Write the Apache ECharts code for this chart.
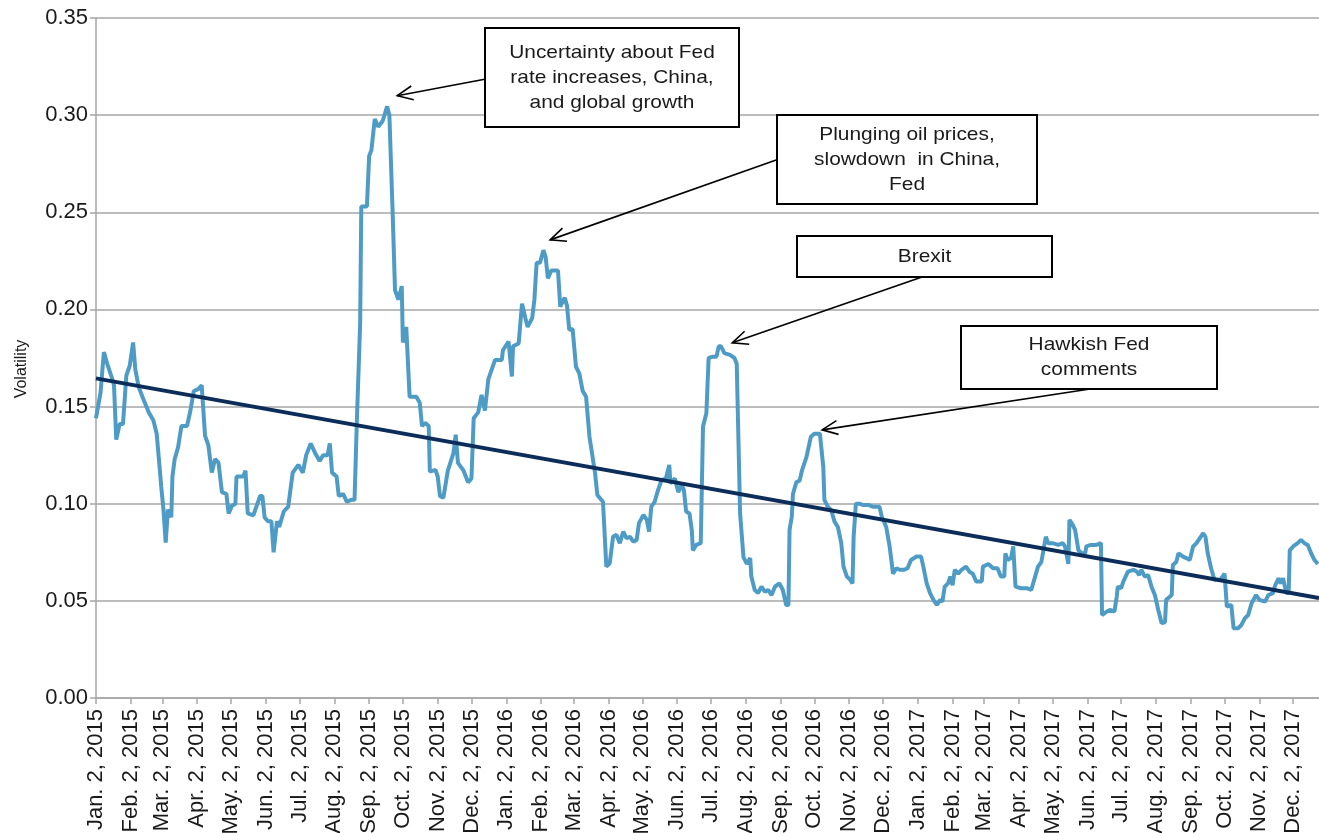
<!DOCTYPE html>
<html><head><meta charset="utf-8">
<script src="https://cdn.jsdelivr.net/npm/echarts@6/dist/echarts.min.js"></script>
<style>html,body{margin:0;padding:0;background:#fff}#c{width:1319px;height:833px}</style>
</head><body><div id="c"></div>
<script>
// ---- data ----
const startDate = '2015-01-02';   // day 0 of obsDay
const endDate = '2017-12-25';     // right end of the date axis
// observation day (days since Jan. 2, 2015)
const obsDay = [0,4,7,10,14,16,18,21,24,27,30,33,35,38,42,47,51,54,57,58,60,62,64,67,68,70,73,76,81,84,87,91,94,97,100,103,106,109,112,116,118,121,124,125,131,133,135,140,146,148,150,153,156,158,161,163,167,171,175,180,184,187,191,195,199,202,206,208,210,214,216,220,223,227,230,232,235,236,241,243,245,248,251,255,259,261,264,266,269,272,273,276,279,285,288,290,293,296,297,302,304,306,309,313,318,320,322,327,331,334,336,340,343,346,349,355,361,362,367,370,371,376,379,382,384,388,390,392,395,398,400,402,405,411,413,417,419,421,424,427,430,433,436,439,444,446,451,452,454,457,460,463,466,469,472,475,478,481,483,487,490,492,494,497,500,503,507,510,511,515,518,521,523,525,528,530,531,534,538,540,543,545,549,552,554,556,559,564,568,570,573,576,579,582,583,586,589,592,595,598,601,604,608,611,614,616,617,619,620,623,626,628,632,636,639,644,647,648,651,654,657,660,663,665,668,671,673,674,676,679,682,687,691,697,699,703,706,708,709,712,715,719,722,725,730,734,736,739,742,745,748,751,753,755,758,760,762,764,767,770,774,777,780,783,788,789,794,798,802,805,808,809,811,814,816,818,823,828,832,835,838,841,845,847,851,856,860,862,865,866,869,871,874,877,880,881,885,890,894,895,899,902,906,908,909,912,914,918,923,926,928,930,933,936,939,942,945,948,951,952,955,957,958,961,963,967,970,973,976,979,982,985,987,989,992,995,1000,1004,1006,1010,1012,1016,1019,1022,1025,1028,1032,1035,1040,1041,1043,1047,1049,1052,1054,1056,1059,1061,1062,1065,1069,1072,1075,1078,1081,1084,1087];
const volatility = [0.144,0.157,0.178,0.172,0.165,0.161,0.133,0.141,0.141,0.166,0.171,0.183,0.169,0.160,0.154,0.147,0.143,0.136,0.116,0.109,0.097,0.080,0.097,0.093,0.114,0.123,0.129,0.140,0.140,0.148,0.158,0.159,0.161,0.135,0.130,0.116,0.123,0.121,0.106,0.105,0.095,0.099,0.100,0.114,0.114,0.117,0.095,0.094,0.104,0.104,0.093,0.091,0.091,0.075,0.091,0.088,0.096,0.0985,0.116,0.120,0.116,0.125,0.131,0.126,0.122,0.125,0.125,0.131,0.116,0.114,0.104,0.105,0.101,0.102,0.102,0.1415,0.193,0.253,0.253,0.279,0.282,0.298,0.294,0.297,0.3045,0.300,0.248,0.210,0.205,0.212,0.183,0.191,0.155,0.155,0.152,0.140,0.1415,0.140,0.1165,0.1174,0.114,0.104,0.103,0.117,0.126,0.1355,0.121,0.117,0.111,0.113,0.144,0.147,0.156,0.148,0.164,0.174,0.174,0.179,0.1835,0.1655,0.181,0.1825,0.203,0.1955,0.191,0.1955,0.205,0.224,0.224,0.2305,0.227,0.216,0.220,0.220,0.2015,0.206,0.202,0.1895,0.190,0.1705,0.167,0.158,0.155,0.1345,0.1157,0.1045,0.101,0.090,0.0676,0.0693,0.083,0.084,0.0797,0.0856,0.0822,0.083,0.0805,0.0814,0.090,0.0942,0.0917,0.0856,0.0985,0.101,0.107,0.112,0.113,0.120,0.1105,0.113,0.106,0.1097,0.107,0.096,0.095,0.0865,0.076,0.0788,0.0797,0.1397,0.1466,0.175,0.1757,0.1757,0.181,0.181,0.1775,0.1766,0.175,0.172,0.095,0.0725,0.069,0.072,0.0625,0.0556,0.054,0.0573,0.0547,0.0556,0.053,0.0573,0.059,0.0556,0.0479,0.0479,0.0865,0.0934,0.105,0.111,0.112,0.117,0.124,0.1345,0.136,0.136,0.119,0.102,0.0985,0.0968,0.0908,0.088,0.0797,0.0676,0.0625,0.0608,0.059,0.083,0.100,0.100,0.0994,0.0994,0.0985,0.0985,0.0934,0.088,0.078,0.069,0.064,0.0668,0.066,0.066,0.0668,0.071,0.0728,0.0728,0.0676,0.059,0.054,0.0505,0.0479,0.0505,0.0496,0.0573,0.059,0.0625,0.058,0.066,0.064,0.066,0.0676,0.065,0.064,0.060,0.060,0.0676,0.069,0.0668,0.0668,0.0625,0.0625,0.0745,0.071,0.072,0.078,0.0573,0.0565,0.0565,0.0556,0.0616,0.0676,0.070,0.083,0.0797,0.0797,0.0788,0.0797,0.078,0.069,0.0917,0.089,0.0865,0.076,0.0745,0.0745,0.078,0.0788,0.0788,0.0797,0.0427,0.0444,0.0453,0.0444,0.052,0.0573,0.0565,0.060,0.065,0.066,0.065,0.0633,0.066,0.0625,0.0633,0.0573,0.053,0.0453,0.0385,0.039,0.0505,0.052,0.053,0.0685,0.070,0.0745,0.0728,0.072,0.071,0.078,0.0797,0.0823,0.0848,0.083,0.0745,0.0668,0.0608,0.0608,0.064,0.047,0.0479,0.0359,0.0359,0.0376,0.041,0.0427,0.0487,0.053,0.0505,0.0496,0.0487,0.053,0.054,0.058,0.0616,0.059,0.0616,0.054,0.054,0.076,0.078,0.0797,0.0814,0.0797,0.0788,0.0745,0.071,0.069];
// linear trend line end points
const trendDay = [0, 1088];
const trendValue = [0.1645, 0.0515];
// x-axis tick dates and labels
const tickDates = ['2015-01-02','2015-02-02','2015-03-02','2015-04-02','2015-05-02','2015-06-02','2015-07-02','2015-08-02','2015-09-02','2015-10-02','2015-11-02','2015-12-02','2016-01-02','2016-02-02','2016-03-02','2016-04-02','2016-05-02','2016-06-02','2016-07-02','2016-08-02','2016-09-02','2016-10-02','2016-11-02','2016-12-02','2017-01-02','2017-02-02','2017-03-02','2017-04-02','2017-05-02','2017-06-02','2017-07-02','2017-08-02','2017-09-02','2017-10-02','2017-11-02','2017-12-02'];
const tickLabels = ['Jan. 2, 2015','Feb. 2, 2015','Mar. 2, 2015','Apr. 2, 2015','May. 2, 2015','Jun. 2, 2015','Jul. 2, 2015','Aug. 2, 2015','Sep. 2, 2015','Oct. 2, 2015','Nov. 2, 2015','Dec. 2, 2015','Jan. 2, 2016','Feb. 2, 2016','Mar. 2, 2016','Apr. 2, 2016','May. 2, 2016','Jun. 2, 2016','Jul. 2, 2016','Aug. 2, 2016','Sep. 2, 2016','Oct. 2, 2016','Nov. 2, 2016','Dec. 2, 2016','Jan. 2, 2017','Feb. 2, 2017','Mar. 2, 2017','Apr. 2, 2017','May. 2, 2017','Jun. 2, 2017','Jul. 2, 2017','Aug. 2, 2017','Sep. 2, 2017','Oct. 2, 2017','Nov. 2, 2017','Dec. 2, 2017'];
// annotations: text lines and the point the arrow points at [day, value]
const notes = [
  {lines:['Uncertainty about Fed','rate increases, China,','and global growth'], target:[268, 0.310]},
  {lines:['Plunging oil prices,','slowdown  in China,','Fed'], target:[404, 0.2358]},
  {lines:['Brexit'], target:[566, 0.1828]},
  {lines:['Hawkish Fed','comments'], target:[646, 0.138]}
];

// ---- layout (pixels) ----
const noteBoxes = [
  {x:485, y:28, w:254, h:99, tail:[486, 79]},
  {x:777, y:115, w:260, h:89, tail:[779, 159]},
  {x:797, y:236, w:255, h:41, tail:[922, 277]},
  {x:961, y:326, w:256, h:63, tail:[1090, 389]}
];

const DAY = 86400000;
const utc = s => Date.parse(s + 'T00:00:00Z');
const base = utc(startDate);
const dayOf = s => Math.round((utc(s) - base) / DAY);
const tickDays = tickDates.map(dayOf);
const labelMap = {};
tickDays.forEach((d, i) => labelMap[d] = tickLabels[i]);

const FONT = 'Liberation Sans, Arial, sans-serif';
const chart = echarts.init(document.getElementById('c'), null, {renderer:'canvas'});
chart.setOption({
  animation: false,
  backgroundColor: '#fff',
  grid: {left: 96, right: 0, top: 18, bottom: 135, containLabel: false, outerBoundsMode: 'none'},
  xAxis: {
    type: 'value', min: 0, max: dayOf(endDate),
    axisLine: {show: true, onZero: false, lineStyle: {color: '#a6a6a6', width: 1.5}},
    axisTick: {show: true, customValues: tickDays, length: 6, lineStyle: {color: '#a6a6a6', width: 1.5}},
    axisLabel: {customValues: tickDays, rotate: 90, margin: 11, fontSize: 22, color: '#1a1a1a', fontFamily: FONT,
      hideOverlap: false, formatter: v => labelMap[Math.round(v)] || ''},
    splitLine: {show: false}
  },
  yAxis: {
    type: 'value', min: 0, max: 0.35, interval: 0.05,
    name: 'Volatility', nameLocation: 'middle', nameGap: 66, nameRotate: 90,
    nameTextStyle: {fontSize: 16, color: '#1a1a1a', fontFamily: FONT, padding: [0, 22, 0, 0]},
    axisLine: {show: true, lineStyle: {color: '#a6a6a6', width: 1.5}},
    axisTick: {show: true, length: 6, lineStyle: {color: '#a6a6a6', width: 1.5}},
    axisLabel: {formatter: v => v.toFixed(2), fontSize: 22, margin: 8, color: '#1a1a1a', fontFamily: FONT},
    splitLine: {show: true, lineStyle: {color: '#a6a6a6', width: 1.5}}
  },
  series: [
    {type: 'line', name: 'Volatility', showSymbol: false, symbol: 'none', z: 2,
     lineStyle: {color: '#4e9cc6', width: 4}, data: obsDay.map((d, i) => [d, volatility[i]])},
    {type: 'line', name: 'Trend', showSymbol: false, symbol: 'none', z: 3,
     lineStyle: {color: '#0c2d5a', width: 4}, data: trendDay.map((d, i) => [d, trendValue[i]])}
  ]
});

// annotations
const g = [];
notes.forEach((n, i) => {
  const b = noteBoxes[i];
  const tip = chart.convertToPixel({gridIndex: 0}, n.target);
  const [tx, ty] = b.tail;
  g.push({type: 'line', z: 10, shape: {x1: tx, y1: ty, x2: tip[0], y2: tip[1]}, style: {stroke: '#000', lineWidth: 1.6}});
  const a = Math.atan2(ty - tip[1], tx - tip[0]), L = 17, s = 0.42;
  g.push({type: 'polyline', z: 10, shape: {points: [
    [tip[0] + L * Math.cos(a + s), tip[1] + L * Math.sin(a + s)], tip,
    [tip[0] + L * Math.cos(a - s), tip[1] + L * Math.sin(a - s)]]},
    style: {stroke: '#000', lineWidth: 1.6, fill: null}});
  g.push({type: 'rect', z: 11, shape: {x: b.x, y: b.y, width: b.w, height: b.h},
    style: {fill: '#fff', stroke: '#000', lineWidth: 2}});
  g.push({type: 'text', z: 12, x: b.x + b.w / 2, y: b.y + b.h / 2, scaleX: 1.1,
    style: {text: n.lines.join('\n'), fill: '#1a1a1a', font: '19px ' + FONT, align: 'center', verticalAlign: 'middle', lineHeight: 25}});
});
chart.setOption({graphic: g});
</script></body></html>
